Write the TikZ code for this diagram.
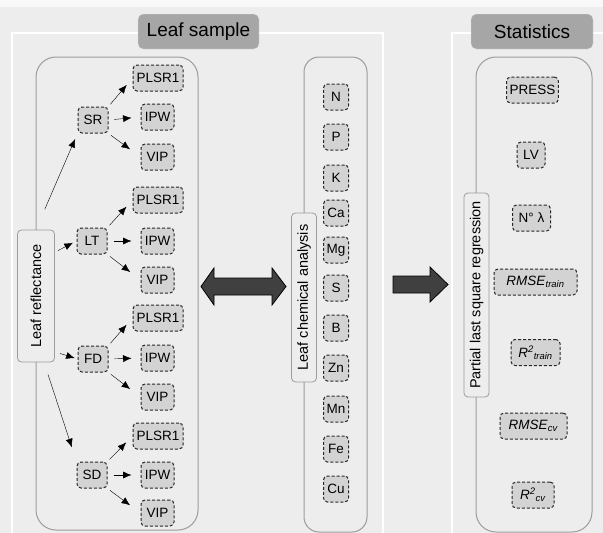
\documentclass[tikz,border=0pt]{standalone}
\usepackage{fontspec}
\setmainfont{Liberation Sans}
\usepackage{tikz}
\usetikzlibrary{
    arrows.meta,
    shapes,
    calc,
    positioning
}
\definecolor{bggray}{HTML}{EDEDED}
\definecolor{topgray}{HTML}{F8F8F8}
\definecolor{titlegray}{HTML}{A6A6A6}
\definecolor{linegray}{HTML}{9C9C9C}
\definecolor{boxgray}{HTML}{D3D3D3}
\definecolor{arrowgray}{HTML}{404040}
\newcommand{\lowtxt}[1]{\textsubscript{\textit{#1}}}

\begin{document}
\begin{tikzpicture}[x=1pt, y=-1pt,
        panel/.style={draw=white, line width=2pt, fill=bggray},
        title/.style={draw=white!70!titlegray, fill=titlegray, rounded corners=5pt, minimum width=121pt, minimum height=35pt, font=\fontsize{19}{22}\selectfont},
        group/.style={draw=linegray, line width=1pt, fill=bggray, rounded corners=20pt},
        tag/.style={draw=linegray, line width=0.8pt, fill=bggray, rounded corners=4pt, rotate=90, inner sep=2pt, font=\fontsize{14.5}{17}\selectfont},
        var/.style={draw=black!85, dash pattern=on 3pt off 2pt, line width=1pt, fill=boxgray, rounded corners=4pt, minimum height=26pt, minimum width=25pt, inner sep=3pt, font=\fontsize{13.5}{16}\selectfont},
        bigarrow/.style={draw=black, fill=arrowgray, line width=0.8pt},
        >={Latex[length=8.5pt, width=7pt]}]
                        \useasboundingbox (0,0) rectangle (603,533);
                        \clip (0,0) rectangle (603,533);
                        \fill[bggray] (0,0) rectangle (603,533);
                        \fill[topgray] (0,0) rectangle (603,7);
                        \draw[panel] (12,33) rectangle (383,545);
                        \draw[panel] (452,33) rectangle (615,545);

                        \node[title] (leafsample) at (198.5,31.5) {Leaf sample};
                        \node[title, minimum width=122pt] (statistics) at (532,31.5) {Statistics};

                        \node[group, minimum width=162pt, minimum height=473pt] (refgroup) at (117,293.5) {};
                        \node[group, rounded corners=15pt, minimum width=63pt, minimum height=475pt] (chemgroup) at (335.5,294.5) {};
                        \node[group, minimum width=116pt, minimum height=475pt] (statgroup) at (534,294.5) {};

                        \node[tag, minimum width=132pt, minimum height=37pt] (reflect) at (36,296) {Leaf reflectance};
                        \node[tag, minimum width=169pt, minimum height=25pt] (chem) at (304,297.5) {Leaf chemical analysis};
                        \node[tag, minimum width=204pt, minimum height=25pt] (pls) at (476.5,295) {Partial last square regression};

                        \node[var, minimum width=30pt] (sr) at (93,120) {SR};
                        \node[var, minimum width=50pt] (srplsr) at (158,78) {PLSR1};
                        \node[var, minimum width=33pt] (sripw) at (157.5,117) {IPW};
                        \node[var, minimum width=33pt] (srvip) at (157.5,157) {VIP};

                        \node[var, minimum width=30pt] (lt) at (92,241) {LT};
                        \node[var, minimum width=50pt] (ltplsr) at (158,200) {PLSR1};
                        \node[var, minimum width=33pt] (ltipw) at (157.5,241) {IPW};
                        \node[var, minimum width=33pt] (ltvip) at (157.5,280) {VIP};

                        \node[var, minimum width=30pt] (fd) at (93,359) {FD};
                        \node[var, minimum width=50pt] (fdplsr) at (158,318) {PLSR1};
                        \node[var, minimum width=33pt] (fdipw) at (157.5,358) {IPW};
                        \node[var, minimum width=33pt] (fdvip) at (157.5,397) {VIP};

                        \node[var, minimum width=30pt] (sd) at (92,475) {SD};
                        \node[var, minimum width=50pt] (sdplsr) at (158,436) {PLSR1};
                        \node[var, minimum width=33pt] (sdipw) at (157.5,475) {IPW};
                        \node[var, minimum width=33pt] (sdvip) at (157.5,513) {VIP};

                        \node[var] (n) at (336,97) {N};
                        \node[var] (p) at (336,137) {P};
                        \node[var] (k) at (336,178) {K};
                        \node[var] (ca) at (336,213) {Ca};
                        \node[var] (mg) at (336,250) {Mg};
                        \node[var] (s) at (336,288) {S};
                        \node[var] (b) at (336,328) {B};
                        \node[var] (zn) at (336,368) {Zn};
                        \node[var] (mn) at (336,409) {Mn};
                        \node[var] (fe) at (336,449) {Fe};
                        \node[var] (cu) at (336,489) {Cu};

                        \node[var, minimum width=49pt] (press) at (532.5,90) {PRESS};
                        \node[var, minimum width=28pt] (lv) at (531,155) {LV};
                        \node[var, minimum width=38pt] (nlambda) at (531.5,218) {N° λ};
                        \node[var, minimum width=83pt] (rmsetrain) at (535.5,282) {\textit{RMSE}\lowtxt{train}};
                        \node[var, minimum width=49pt] (rtrain) at (535.5,352.5) {\textit{R}\textsuperscript{\textit{2}}\lowtxt{train}};
                        \node[var, minimum width=67pt] (rmsecv) at (533.5,426) {\textit{RMSE}\lowtxt{cv}};
                        \node[var, minimum width=42pt] (rcv) at (533,495) {\textit{R}\textsuperscript{\textit{2}}\lowtxt{cv}};

                        \draw
                        (reflect.east) edge[->, shorten <=22pt, shorten >=6pt] (sr.south west)
                        ($(reflect.south east)+(3,21)$) edge[->, shorten >=4pt] (lt.west)
                        ($(reflect.south west)+(5,-9)$) edge[->, shorten >=3pt] (fd.west)
                        ($(reflect.west)+(12,12)$) edge[->, shorten >=15pt] (sd.north west);

                        \draw
                        (sr.north east) edge[->, shorten <=3pt, shorten >=9pt] (srplsr.west)
                        (sr.east) edge[->, shorten <=6pt, shorten >=9pt] (sripw.west)
                        (sr.south east) edge[->, shorten <=3pt, shorten >=13pt] (srvip.west)
                        (lt.north east) edge[->, shorten <=3pt, shorten >=9pt] (ltplsr.west)
                        (lt.east) edge[->, shorten <=6pt, shorten >=9pt] (ltipw.west)
                        (lt.south east) edge[->, shorten <=3pt, shorten >=13pt] (ltvip.west)
                        (fd.north east) edge[->, shorten <=3pt, shorten >=9pt] (fdplsr.west)
                        (fd.east) edge[->, shorten <=6pt, shorten >=9pt] (fdipw.west)
                        (fd.south east) edge[->, shorten <=3pt, shorten >=13pt] (fdvip.west)
                        (sd.north east) edge[->, shorten <=3pt, shorten >=9pt] (sdplsr.west)
                        (sd.east) edge[->, shorten <=6pt, shorten >=9pt] (sdipw.west)
                        (sd.south east) edge[->, shorten <=3pt, shorten >=13pt] (sdvip.west);

                        \filldraw[bigarrow] (201,286.5) -- (214,268) -- (214,278) -- (272,278) -- (272,268) -- (286,286.5)
                        -- (272,305) -- (272,295) -- (214,295) -- (214,305) -- cycle;
                        \filldraw[bigarrow] (393,276) -- (430,276) -- (430,267) -- (448,284.5) -- (430,302) -- (430,293) -- (393,293) -- cycle;
                    \end{tikzpicture}
\end{document}
